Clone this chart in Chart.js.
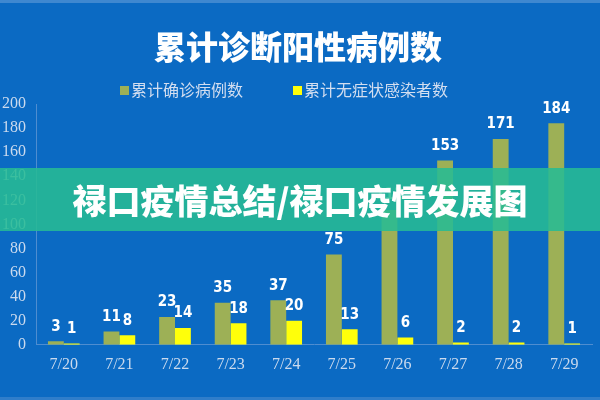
<!DOCTYPE html>
<html>
<head>
<meta charset="utf-8">
<script src="https://cdn.jsdelivr.net/npm/chart.js@4/dist/chart.umd.min.js"></script>
<style>
  html, body { margin: 0; padding: 0; }
  body { width: 600px; height: 400px; background: #0b6ac3; position: relative; overflow: hidden; }
  #title { position: absolute; top: 24px; left: 0; width: 596px; text-align: center; color: #fff;
    font: 900 32px "Noto Sans CJK SC", sans-serif; line-height: 42px; }
  #legend { position: absolute; top: 78px; left: 120px; color: #d3def0;
    font: 16px "Noto Sans CJK SC", sans-serif; line-height: 22px; white-space: nowrap; }
  #legend span.box { display: inline-block; width: 9px; height: 9px; margin-right: 2px; vertical-align: 1px; }
  #legend span.item { margin-right: 50px; }
  #wrap { position: absolute; left: 0; top: 0; width: 600px; height: 400px; }
  #banner { position: absolute; left: 0; top: 168px; width: 600px; height: 63px;
    background: rgba(39, 187, 148, 0.88); color: #fff; text-align: center;
    font: 900 34px "Noto Sans CJK SC", sans-serif; line-height: 63px; }
  #edge { position: absolute; left: 0; right: 0; top: 0; height: 3px; background: #3f88d0; }
  #edge2 { position: absolute; left: 0; right: 0; bottom: 0; height: 3px; background: #2f7dca; }
</style>
</head>
<body>
<div id="edge"></div>
<div id="wrap"><canvas id="chart" width="600" height="400"></canvas></div>
<div id="title">累计诊断阳性病例数</div>
<div id="legend"></div>
<div id="banner">禄口疫情总结/禄口疫情发展图</div>
<div id="edge2"></div>
<script>
const dates = ["7/20", "7/21", "7/22", "7/23", "7/24", "7/25", "7/26", "7/27", "7/28", "7/29"];
const confirmed = [3, 11, 23, 35, 37, 75, 112, 153, 171, 184];
const asymptomatic = [1, 8, 14, 18, 20, 13, 6, 2, 2, 1];
const seriesNames = ["累计确诊病例数", "累计无症状感染者数"];
const seriesColors = ["#9db056", "#ffff0a"];
const yTicks = [0, 20, 40, 60, 80, 100, 120, 140, 160, 180, 200];

// legend built from the series
const legendEl = document.getElementById("legend");
seriesNames.forEach((name, i) => {
  legendEl.innerHTML += `<span class="item"><span class="box" style="background:${seriesColors[i]}"></span>${name}</span>`;
});

const valueLabels = {
  id: "valueLabels",
  afterDatasetsDraw(chart) {
    const ctx = chart.ctx;
    ctx.save();
    ctx.fillStyle = "#ffffff";
    ctx.font = 'bold 15px "DejaVu Sans Condensed", "Liberation Sans Narrow", sans-serif';
    ctx.textAlign = "center";
    ctx.textBaseline = "bottom";
    chart.data.datasets.forEach((ds, i) => {
      const meta = chart.getDatasetMeta(i);
      meta.data.forEach((bar, j) => {
        ctx.fillText(ds.data[j], bar.x, bar.y - 7);
      });
    });
    ctx.restore();
  },
};

new Chart(document.getElementById("chart"), {
  type: "bar",
  data: {
    labels: dates,
    datasets: [
      {
        label: seriesNames[0],
        data: confirmed,
        backgroundColor: seriesColors[0],
        categoryPercentage: 0.57,
        barPercentage: 1.0,
      },
      {
        label: seriesNames[1],
        data: asymptomatic,
        backgroundColor: seriesColors[1],
        categoryPercentage: 0.57,
        barPercentage: 1.0,
      },
    ],
  },
  options: {
    responsive: false,
    animation: false,
    layout: { padding: { top: 104, right: 8, bottom: 16, left: 0 } },
    plugins: {
      legend: { display: false },
      title: { display: false },
      tooltip: { enabled: false },
    },
    scales: {
      x: {
        grid: { display: false, drawTicks: false },
        border: { color: "#4f8dd0", width: 1 },
        ticks: {
          color: "#cbdaee",
          padding: 10,
          font: { family: '"Liberation Serif", serif', size: 16 },
        },
      },
      y: {
        min: yTicks[0],
        max: yTicks[yTicks.length - 1],
        afterFit: (scale) => { scale.width = 36; },
        afterBuildTicks: (scale) => { scale.ticks = yTicks.map((v) => ({ value: v })); },
        grid: { display: false, drawTicks: false },
        border: { color: "#4f8dd0", width: 1 },
        ticks: {
          color: "#cbdaee",
          padding: 10,
          font: { family: '"Liberation Serif", serif', size: 16 },
        },
      },
    },
  },
  plugins: [valueLabels],
});
</script>
</body>
</html>
